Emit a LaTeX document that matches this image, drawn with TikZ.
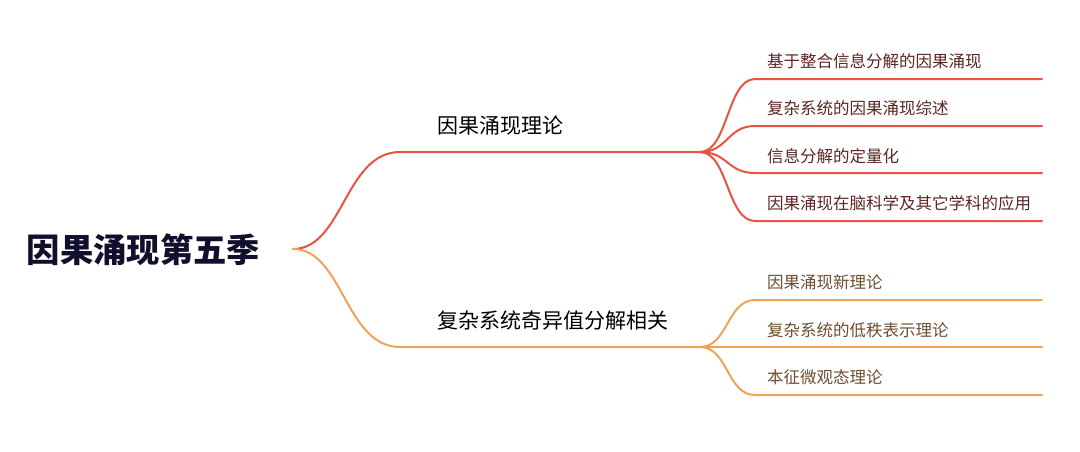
\documentclass[tikz,border=0pt]{standalone}
\usepackage{fontspec}
\setmainfont{Noto Sans CJK SC}
\definecolor{rootink}{RGB}{16,16,44}
\definecolor{mapred}{RGB}{232,84,66}
\definecolor{maporange}{RGB}{240,163,88}
\definecolor{redink}{RGB}{92,38,36}
\definecolor{orangeink}{RGB}{108,78,48}

\begin{document}
\begin{tikzpicture}[x=1pt,y=-1pt,
  root/.style={inner sep=0pt,text=rootink,font=\fontsize{33.3}{38}\selectfont\bfseries},
  topic/.style={anchor=west,inner sep=0pt,text=black,font=\fontsize{21}{25}\selectfont},
  leaf/.style={anchor=west,inner sep=0pt,font=\fontsize{16.5}{20}\selectfont},
  branch/.style={line width=2pt,line cap=round}]
  \useasboundingbox (0,0) rectangle (1080,451);
  % root
  \node[root] at (143.5,250) (season) {因果涌现第五季};
  \coordinate (hub) at (293,249);
  % main topics
  \coordinate (emStart) at (400,152);
  \coordinate (emFork) at (700,152);
  \coordinate (svdStart) at (400,347);
  \coordinate (svdFork) at (700,347);
  \node[topic] at (437,126) (emerge) {因果涌现理论};
  \node[topic] at (437,321) (svd) {复杂系统奇异值分解相关};
  \draw[branch,mapred] (hub) .. controls +(50,0) and +(-55,0) .. (emStart) -- (emFork);
  \draw[branch,maporange] (hub) .. controls +(50,0) and +(-55,0) .. (svdStart) -- (svdFork);
  % causal emergence leaves
  \coordinate (phiEnd) at (1042,79);
  \coordinate (surveyEnd) at (1042,126);
  \coordinate (quantEnd) at (1042,173);
  \coordinate (brainEnd) at (1042,221);
  \node[leaf,text=redink] at (767,61) (phi) {基于整合信息分解的因果涌现};
  \node[leaf,text=redink] at (767,108) (survey) {复杂系统的因果涌现综述};
  \node[leaf,text=redink] at (767,156) (quant) {信息分解的定量化};
  \node[leaf,text=redink] at (767,203) (brain) {因果涌现在脑科学及其它学科的应用};
  \draw[branch,mapred] (emFork) .. controls +(28,0) and +(-28,0) .. (755,79) -- (phiEnd);
  \draw[branch,mapred] (emFork) .. controls +(28,0) and +(-28,0) .. (755,126) -- (surveyEnd);
  \draw[branch,mapred] (emFork) .. controls +(28,0) and +(-28,0) .. (755,173) -- (quantEnd);
  \draw[branch,mapred] (emFork) .. controls +(28,0) and +(-28,0) .. (755,221) -- (brainEnd);
  % svd leaves
  \coordinate (newEnd) at (1042,300);
  \coordinate (lowEnd) at (1042,347);
  \coordinate (eigenEnd) at (1042,395);
  \node[leaf,text=orangeink] at (767,282) (newth) {因果涌现新理论};
  \node[leaf,text=orangeink] at (767,330) (lowrank) {复杂系统的低秩表示理论};
  \node[leaf,text=orangeink] at (767,377) (eigen) {本征微观态理论};
  \draw[branch,maporange] (svdFork) .. controls +(28,0) and +(-28,0) .. (755,300) -- (newEnd);
  \draw[branch,maporange] (svdFork) -- (lowEnd);
  \draw[branch,maporange] (svdFork) .. controls +(28,0) and +(-28,0) .. (755,395) -- (eigenEnd);
\end{tikzpicture}
\end{document}
